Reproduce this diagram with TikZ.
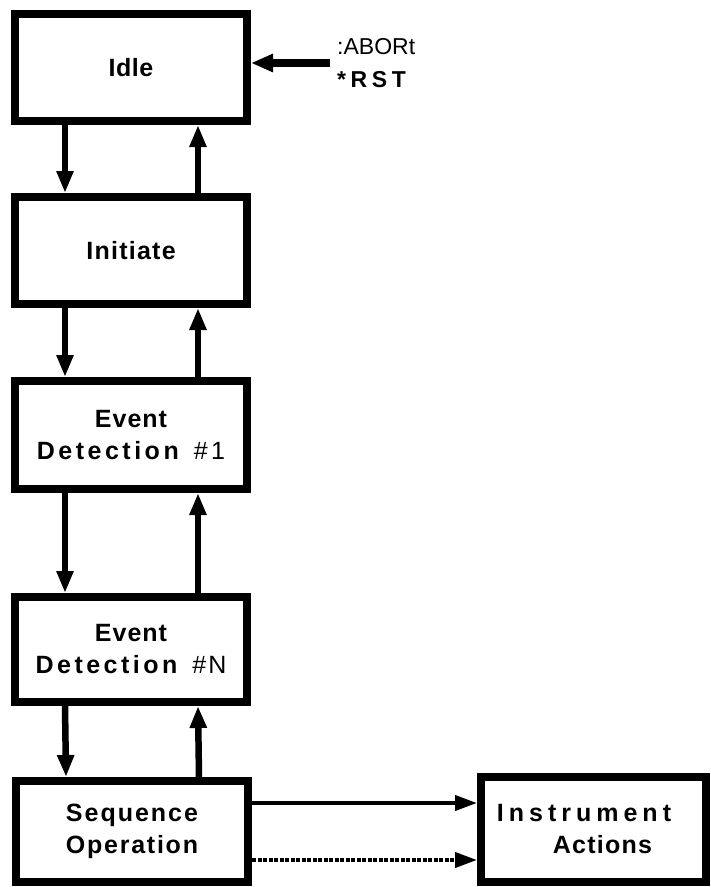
\documentclass[tikz,border=0pt]{standalone}
\usepackage{fontspec}
\setmainfont{Liberation Sans}
\usetikzlibrary{arrows.meta,positioning,calc}
\newcommand{\trk}[2]{{\addfontfeature{LetterSpace=#1}#2}}

\begin{document}
\begin{tikzpicture}[x=1pt,y=-1pt,
  state/.style={draw,line width=8pt,minimum width=232pt,minimum height=107pt,inner sep=0pt,align=center,font=\fontsize{25}{32}\selectfont\bfseries},
  flow/.style={-{Triangle[length=22pt,width=16pt]},line width=6.5pt},
  act/.style={-{Triangle[length=22pt,width=15pt]},line width=4pt},
  cmd/.style={-{Triangle[length=22pt,width=17pt]},line width=8.5pt}]
\useasboundingbox (0,0) rectangle (711,887);
% States of the trigger loop
\node[state] (idle) at (131,67.5) {\trk{2}{Idle}};
\node[state] (init) at (131,250.5) {\trk{5}{Initiate}};
\node[state,minimum height=108pt] (ev1) at (131,435) {\trk{4}{Event}\\\trk{14}{Detection}\hspace{15pt}{\mdseries\trk{14}{\#1}}};
\node[state,minimum height=105pt] (evn) at (131,649.5) {\trk{4}{Event}\\\trk{14}{Detection}\hspace{15pt}{\mdseries\trk{8}{\#N}}};
\node[state,minimum height=101pt] (seq) at (132,831.5) {\trk{8}{Sequence}\\\trk{7}{Operation}};
\node[state,minimum width=225pt,minimum height=105pt] (instr) at (593.5,829.5) {\trk{20}{Instrument}\hspace*{19pt}\\\hspace*{18pt}\trk{5}{Actions}};
% Commands
\node[align=left,anchor=west,inner sep=0pt,font=\fontsize{23}{33}\selectfont] (abort) at (337,63) {:ABORt\\\textbf{\trk{20}{*RST}}};
\draw[cmd] ([xshift=-7pt]abort.west) -- (abort.west -| idle.east);
% Down and up through the layers
\foreach \a/\b in {idle/init,init/ev1,ev1/evn,evn/seq} {
  \draw[flow] ([xshift=-66pt]\a.south) -- ([xshift=-66pt]\b.north);
  \draw[flow] ([xshift=67pt]\b.north) -- ([xshift=67pt]\a.south);
}
% Sequence Operation -> Instrument Actions
\coordinate (s1) at ([yshift=28.5pt]seq.east);
\coordinate (s2) at ([yshift=-28.5pt]seq.east);
\draw[act] (s1) -- (s1 -| instr.west);
\draw[act,dash pattern=on 4pt off 1.5pt] (s2) -- (s2 -| instr.west);
\end{tikzpicture}
\end{document}
